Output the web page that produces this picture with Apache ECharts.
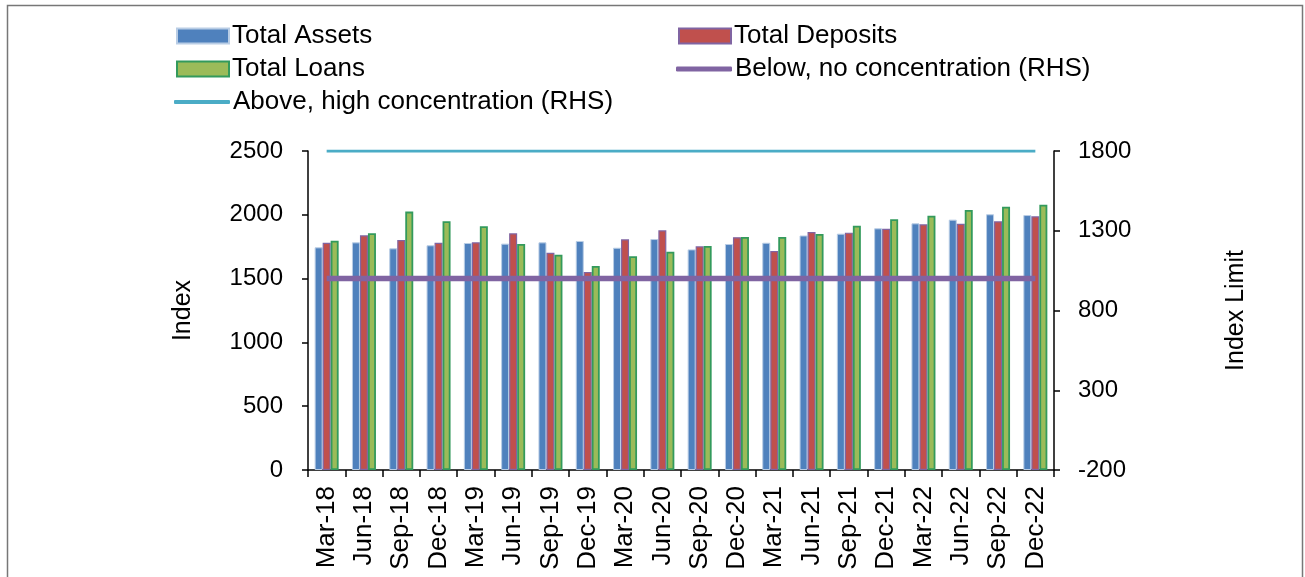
<!DOCTYPE html>
<html>
<head>
<meta charset="utf-8">
<script src="https://cdn.jsdelivr.net/npm/echarts@6/dist/echarts.min.js"></script>
<style>
html,body{margin:0;padding:0;background:#fff;}
#chart{width:1305px;height:577px;}
</style>
</head>
<body>
<div id="chart"></div>
<script>
const categories = ["Mar-18","Jun-18","Sep-18","Dec-18","Mar-19","Jun-19","Sep-19","Dec-19","Mar-20","Jun-20","Sep-20","Dec-20","Mar-21","Jun-21","Sep-21","Dec-21","Mar-22","Jun-22","Sep-22","Dec-22"];
const totalAssets   = [1745,1784,1737,1761,1779,1774,1784,1795,1742,1810,1729,1771,1781,1838,1852,1894,1933,1962,2004,1998];
const totalDeposits = [1781,1839,1803,1781,1784,1855,1703,1552,1808,1878,1753,1824,1716,1865,1860,1891,1925,1930,1949,1988];
const totalLoans    = [1797,1855,2025,1949,1910,1771,1687,1599,1675,1711,1755,1826,1826,1850,1915,1965,1993,2038,2064,2079];
const belowNoConcentration  = categories.map(() => 1000);
const aboveHighConcentration = categories.map(() => 1800);
const leftTicks = [0, 500, 1000, 1500, 2000, 2500];
const rightTicks = [-200, 300, 800, 1300, 1800];

const FONT = 'Liberation Sans, Arial, sans-serif';
const chart = echarts.init(document.getElementById('chart'));

function legendAt(name, left, top, icon, w, h) {
  return {
    data: [name], left: left, top: top, orient: 'horizontal',
    icon: icon, itemWidth: w, itemHeight: h, itemGap: 0,
    padding: 0, selectedMode: false,
    textStyle: {fontFamily: FONT, fontSize: 26, color: '#000', padding: [0,0,0,-2]}
  };
}

chart.setOption({
  animation: false,
  backgroundColor: '#fff',
  textStyle: {fontFamily: FONT},
  graphic: [{
    type: 'rect', silent: true,
    shape: {x: 7.5, y: 5.5, width: 1295, height: 600},
    style: {fill: 'none', stroke: '#777', lineWidth: 1.5}
  }],
  legend: [
    legendAt('Total Assets', 176, 23, 'rect', 52, 15),
    legendAt('Total Deposits', 678, 23, 'rect', 52, 15),
    legendAt('Total Loans', 176, 56, 'rect', 52, 15),
    legendAt('Below, no concentration (RHS)', 676, 56, 'roundRect', 56, 5),
    legendAt('Above, high concentration (RHS)', 174, 89, 'roundRect', 56, 4)
  ],
  grid: {left: 308, right: 251, top: 151, bottom: 107, containLabel: false},
  xAxis: {
    type: 'category', data: categories, boundaryGap: true,
    axisLine: {lineStyle: {color: '#000', width: 1.5}},
    axisTick: {show: true, length: 7, lineStyle: {color: '#000', width: 1.5}, alignWithLabel: false},
    axisLabel: {rotate: 90, fontSize: 26, color: '#000', fontFamily: FONT, margin: 16, interval: 0}
  },
  yAxis: [{
    type: 'value', min: 0, max: 2500, interval: 500, position: 'left',
    name: 'Index', nameLocation: 'middle', nameGap: 112, nameRotate: 90,
    nameTextStyle: {fontSize: 25, color: '#000', fontFamily: FONT},
    axisLine: {show: true, lineStyle: {color: '#000', width: 1.5}},
    axisTick: {show: true, length: 6, lineStyle: {color: '#000', width: 1.5}},
    axisLabel: {fontSize: 24, color: '#000', fontFamily: FONT, margin: 25,
      formatter: v => leftTicks.includes(v) ? String(v) : ''},
    splitLine: {show: false}
  }, {
    type: 'value', min: -200, max: 1800, interval: 500, position: 'right',
    name: 'Index Limit', nameLocation: 'middle', nameGap: 170, nameRotate: 90,
    nameTextStyle: {fontSize: 25, color: '#000', fontFamily: FONT},
    axisLine: {show: true, lineStyle: {color: '#000', width: 1.5}},
    axisTick: {show: true, length: 6, lineStyle: {color: '#000', width: 1.5}},
    axisLabel: {fontSize: 24, color: '#000', fontFamily: FONT, margin: 24,
      formatter: v => rightTicks.includes(v) ? String(v) : ''},
    splitLine: {show: false}
  }],
  series: [{
    name: 'Total Assets', type: 'bar', data: totalAssets, barWidth: 8, barGap: '0%',
    itemStyle: {color: '#4F81BD', borderColor: '#B9CDE5', borderWidth: 1}
  }, {
    name: 'Total Deposits', type: 'bar', data: totalDeposits, barWidth: 8, barGap: '0%',
    itemStyle: {color: '#C0504D', borderColor: '#8064A2', borderWidth: 1.2}
  }, {
    name: 'Total Loans', type: 'bar', data: totalLoans, barWidth: 8, barGap: '0%',
    itemStyle: {color: '#9BBB59', borderColor: '#339A5C', borderWidth: 1.8}
  }, {
    name: 'Below, no concentration (RHS)', type: 'line', yAxisIndex: 1, data: belowNoConcentration,
    symbol: 'none', lineStyle: {color: '#8064A2', width: 5.5}, itemStyle: {color: '#8064A2'}, z: 5
  }, {
    name: 'Above, high concentration (RHS)', type: 'line', yAxisIndex: 1, data: aboveHighConcentration,
    symbol: 'none', lineStyle: {color: '#4BACC6', width: 3}, itemStyle: {color: '#4BACC6'}, z: 5
  }]
});
</script>
</body>
</html>
